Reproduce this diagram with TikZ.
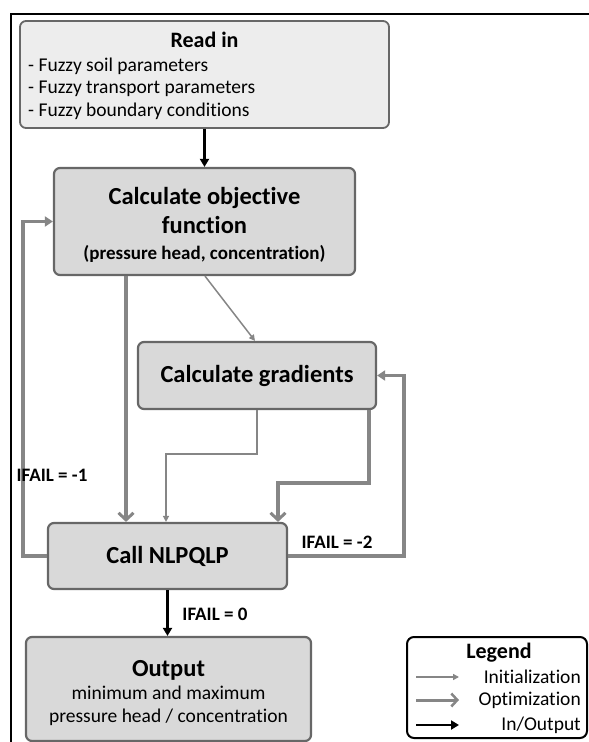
\documentclass[tikz,border=0pt]{standalone}
\usepackage{fontspec}
\setmainfont{Carlito}[Ligatures=NoCommon]
\usetikzlibrary{arrows.meta}
\definecolor{BoxLight}{HTML}{EDEDED}
\definecolor{BoxGray}{HTML}{D9D9D9}
\definecolor{Edge}{HTML}{676767}
\definecolor{Flow}{HTML}{868686}
\tikzset{
  stepbox/.style={draw=Edge,line width=2.2pt,fill=BoxGray,rounded corners=6pt,inner sep=0pt},
  init/.style={draw=Flow,line width=1.5pt,-{Triangle[length=6pt,width=6pt]}},
  optim/.style={draw=Flow,line width=3.5pt,-{Straight Barb[length=7pt,width=15pt,line width=3pt]}},
  optloop/.style={draw=Flow,line width=3.5pt,-{Triangle[length=8pt,width=10pt]}},
  inout/.style={draw=black,line width=2.2pt,-{Triangle[length=8pt,width=9pt]}},
  headtxt/.style={font=\fontsize{24.5}{29}\selectfont\bfseries,align=center},
  bodytxt/.style={font=\fontsize{19.5}{23}\selectfont,inner sep=0pt},
  lbl/.style={font=\fontsize{19}{22}\selectfont\bfseries,inner sep=0pt}
}
\begin{document}
\begin{tikzpicture}[x=1pt,y=-1pt]
    \useasboundingbox (0,0) rectangle (589,742);
    \draw[line width=2.2pt] (11,742) -- (11,14) -- (589,14);
    \node[stepbox,fill=BoxLight,line width=1.8pt,minimum width=369pt,minimum height=107pt] (readin) at (204.5,74.5) {};
    \node[font=\fontsize{22}{26}\selectfont\bfseries,inner sep=0pt] (readtitle) at (204.5,40) {Read in};
    \foreach \txt [count=\i] in {Fuzzy soil parameters,Fuzzy transport parameters,Fuzzy boundary conditions}
      \node[bodytxt,anchor=base west] (item\i) at (28,48.5+22.5*\i) {- \txt};
    \node[stepbox,minimum width=301pt,minimum height=107pt] (calcobj) at (204.5,221.5) {};
    \node[headtxt,inner sep=0pt] (calctxt) at (204.5,224.5)
      {Calculate objective\\function\\[-3pt]{\fontsize{19}{22}\selectfont(pressure head, concentration)}};
    \node[stepbox,headtxt,minimum width=238pt,minimum height=67pt] (calcgrad) at (257,375.5) {Calculate gradients};
    \node[stepbox,headtxt,minimum width=239pt,minimum height=66pt] (callnlp) at (167.5,556) {Call NLPQLP};
    \node[stepbox,minimum width=285pt,minimum height=104pt] (output) at (168.5,689) {};
    \node[align=center,font=\fontsize{19.5}{23}\selectfont,inner sep=0pt] (outtxt) at (168.5,693)
      {{\fontsize{24.5}{27}\selectfont\bfseries Output}\\minimum and maximum\\pressure head / concentration};

    \draw[inout] (readin) -- (calcobj);
    \draw[optim] ([xshift=-78.5pt]calcobj.south) -- ([xshift=-41.5pt]callnlp.north);
    \draw[init] ([xshift=0.5pt]calcobj.south) -- ([xshift=-2pt]calcgrad.north);
    \draw[init] (calcgrad.south) -- ++(0,44) -| ([xshift=-1.5pt]callnlp.north);
    \draw[optim] ([xshift=-8pt]calcgrad.south east) -- ++(0,73) -| ([xshift=110.5pt]callnlp.north);
    \draw[optloop] (callnlp.west) -- ++(-24,0) |- (calcobj.west);
    \draw[optloop] (callnlp.east) -- ++(116,0) |- (calcgrad.east);
    \draw[inout] (callnlp.south) -- (callnlp.south |- output.north);
    \node[lbl] (failone) at (52,475) {IFAIL = -1};
    \node[lbl] (failtwo) at (337,542) {IFAIL = -2};
    \node[lbl] (failzero) at (215,614) {IFAIL = 0};

    \node[draw=black,line width=2pt,rounded corners=7pt,fill=white,minimum width=180pt,minimum height=101pt,inner sep=0pt] (legend) at (497,687.5) {};
    \node[font=\fontsize{22}{26}\selectfont\bfseries,inner sep=0pt] (legtitle) at (499,653) {Legend};
    \coordinate (initA) at (416,677);
    \coordinate (initB) at (459,677);
    \coordinate (optA) at (416,700);
    \coordinate (optB) at (459,700);
    \coordinate (ioA) at (416,725);
    \coordinate (ioB) at (459,725);
    \draw[init] (initA) -- (initB);
    \draw[optim,line width=3pt,-{Straight Barb[length=6pt,width=13pt,line width=2.5pt]}] (optA) -- (optB);
    \draw[inout] (ioA) -- (ioB);
    \node[bodytxt,anchor=east] (legone) at (581,677) {Initialization};
    \node[bodytxt,anchor=east] (legtwo) at (581,700) {Optimization};
    \node[bodytxt,anchor=east] (legthree) at (581,725) {In/Output};
  \end{tikzpicture}
\end{document}
